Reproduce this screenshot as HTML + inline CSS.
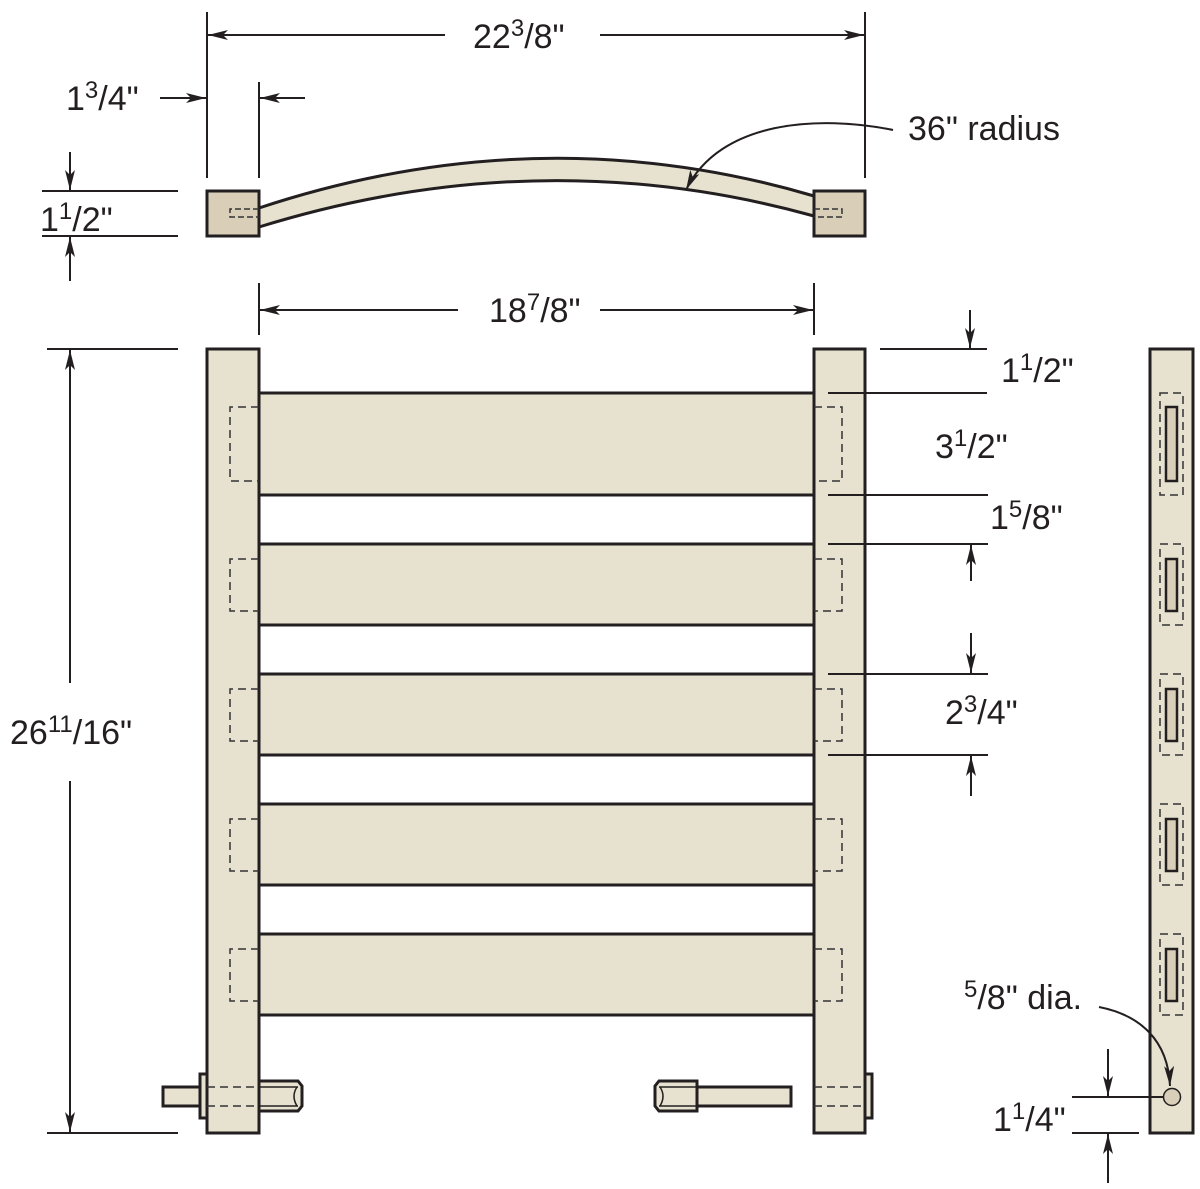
<!DOCTYPE html>
<html><head><meta charset="utf-8"><style>
html,body{margin:0;padding:0;background:#fff;}
svg{display:block;}
text{font-family:"Liberation Sans",sans-serif;font-size:34px;fill:#231f20;}
</style></head><body>
<svg width="1200" height="1189" viewBox="0 0 1200 1189" xmlns="http://www.w3.org/2000/svg">
<defs>
<marker id="a" viewBox="0 0 20 10" refX="20" refY="5" markerWidth="20" markerHeight="10" markerUnits="userSpaceOnUse" orient="auto">
<path d="M0,0 L20,5 L0,10 L5,5 Z" fill="#231f20"/></marker>
</defs>
<!-- top view -->
<g stroke="#231f20" stroke-width="3">
<path d="M259,208 Q540,115 814,196 L814,216 Q540,140 259,227 Z" fill="#e6e2cf"/>
<rect x="207" y="191" width="52" height="45" fill="#d9cfb9"/>
<rect x="814" y="191" width="51" height="45" fill="#d9cfb9"/>
</g>
<g stroke="#333" stroke-width="1.5" stroke-dasharray="6,3" fill="none">
<path d="M259,209 H230 V217 H259"/><path d="M814,209 H842 V217 H814"/>
</g>
<!-- front view -->
<g stroke="#231f20" stroke-width="3" fill="#e6e2cf">
<rect x="259" y="393" width="555" height="102"/>
<rect x="259" y="544" width="555" height="81"/>
<rect x="259" y="674" width="555" height="81"/>
<rect x="259" y="804" width="555" height="81"/>
<rect x="259" y="934" width="555" height="81"/>
<rect x="163" y="1087" width="44" height="19"/>
<rect x="200" y="1074" width="7" height="44"/>
<rect x="207" y="349" width="52" height="784"/>
<rect x="814" y="349" width="51" height="784"/>
<rect x="865" y="1074" width="7" height="44"/>
<path d="M259,1081 H298 L302,1086 V1106 L298,1111 H259 Z"/>
<rect x="697" y="1087" width="94" height="19"/>
<path d="M697,1081 H659 L655,1086 V1106 L659,1111 H697 Z"/>
<rect x="1150" y="349" width="43" height="784"/>
</g>
<g stroke="#231f20" stroke-width="1.5" fill="none">
<line x1="259" y1="1087" x2="298" y2="1087"/><line x1="259" y1="1106" x2="298" y2="1106"/>
<path d="M297,1087 Q291,1096 297,1106"/>
<line x1="659" y1="1087" x2="697" y2="1087"/><line x1="659" y1="1106" x2="697" y2="1106"/>
<path d="M660,1087 Q666,1096 660,1106"/>
</g>
<g stroke="#333" stroke-width="1.5" stroke-dasharray="8,5" fill="none">
<line x1="207" y1="1087" x2="259" y2="1087"/><line x1="207" y1="1106" x2="259" y2="1106"/>
<line x1="814" y1="1087" x2="865" y2="1087"/><line x1="814" y1="1106" x2="865" y2="1106"/>
<path d="M259,407 H230 V481 H259"/><path d="M814,407 H842 V481 H814"/>
<path d="M259,559 H230 V611 H259"/><path d="M814,559 H842 V611 H814"/>
<path d="M259,689 H230 V741 H259"/><path d="M814,689 H842 V741 H814"/>
<path d="M259,819 H230 V871 H259"/><path d="M814,819 H842 V871 H814"/>
<path d="M259,949 H230 V1001 H259"/><path d="M814,949 H842 V1001 H814"/>
<rect x="1160" y="393" width="23" height="102"/>
<rect x="1160" y="544" width="23" height="81"/>
<rect x="1160" y="674" width="23" height="81"/>
<rect x="1160" y="804" width="23" height="81"/>
<rect x="1160" y="934" width="23" height="81"/>
</g>
<g stroke="#231f20" stroke-width="2.5" fill="#d9cfb9">
<rect x="1166" y="407" width="11" height="74"/>
<rect x="1166" y="559" width="11" height="52"/>
<rect x="1166" y="689" width="11" height="52"/>
<rect x="1166" y="819" width="11" height="52"/>
<rect x="1166" y="949" width="11" height="52"/>
</g>
<circle cx="1172" cy="1097" r="8.5" fill="#d9cfb9" stroke="#231f20" stroke-width="1.5"/>
<g stroke="#231f20" stroke-width="2" fill="none">
<!-- top dims -->
<line x1="207" y1="12" x2="207" y2="178"/><line x1="865" y1="12" x2="865" y2="178"/>
<line x1="445" y1="35" x2="208" y2="35" marker-end="url(#a)"/>
<line x1="600" y1="35" x2="864" y2="35" marker-end="url(#a)"/>
<line x1="259" y1="82" x2="259" y2="178"/>
<line x1="160" y1="98" x2="206" y2="98" marker-end="url(#a)"/>
<line x1="305" y1="98" x2="260" y2="98" marker-end="url(#a)"/>
<line x1="42" y1="191" x2="178" y2="191"/><line x1="42" y1="236" x2="178" y2="236"/>
<line x1="70" y1="152" x2="70" y2="190" marker-end="url(#a)"/>
<line x1="70" y1="281" x2="70" y2="237" marker-end="url(#a)"/>
<line x1="259" y1="283" x2="259" y2="335"/><line x1="814" y1="283" x2="814" y2="335"/>
<line x1="458" y1="310" x2="260" y2="310" marker-end="url(#a)"/>
<line x1="600" y1="310" x2="813" y2="310" marker-end="url(#a)"/>
<line x1="47" y1="349" x2="178" y2="349"/><line x1="47" y1="1133" x2="178" y2="1133"/>
<line x1="70" y1="683" x2="70" y2="350" marker-end="url(#a)"/>
<line x1="70" y1="781" x2="70" y2="1132" marker-end="url(#a)"/>
<line x1="880" y1="349" x2="987" y2="349"/>
<line x1="970" y1="310" x2="970" y2="348" marker-end="url(#a)"/>
<line x1="828" y1="393" x2="987" y2="393"/>
<line x1="828" y1="495" x2="988" y2="495"/>
<line x1="828" y1="544" x2="988" y2="544"/>
<line x1="971" y1="581" x2="971" y2="545" marker-end="url(#a)"/>
<line x1="828" y1="674" x2="988" y2="674"/>
<line x1="971" y1="633" x2="971" y2="673" marker-end="url(#a)"/>
<line x1="828" y1="755" x2="988" y2="755"/>
<line x1="971" y1="796" x2="971" y2="756" marker-end="url(#a)"/>
<line x1="1072" y1="1097" x2="1163" y2="1097"/>
<line x1="1072" y1="1133" x2="1139" y2="1133"/>
<line x1="1108" y1="1049" x2="1108" y2="1096" marker-end="url(#a)"/>
<line x1="1108" y1="1183" x2="1108" y2="1134" marker-end="url(#a)"/>
<path d="M1099,1007 C1140,1015 1168,1040 1170,1086" marker-end="url(#a)"/>
<path d="M893,130 C820,115 720,120 686,190" marker-end="url(#a)"/>
</g>
<!-- labels -->
<text x="473" y="48">22<tspan font-size="24" dy="-12">3</tspan><tspan dy="12">/8"</tspan></text>
<text x="66" y="110">1<tspan font-size="24" dy="-12">3</tspan><tspan dy="12">/4"</tspan></text>
<text x="40" y="231">1<tspan font-size="24" dy="-12">1</tspan><tspan dy="12">/2"</tspan></text>
<text x="908" y="140">36" radius</text>
<text x="489" y="322">18<tspan font-size="24" dy="-12">7</tspan><tspan dy="12">/8"</tspan></text>
<text x="10" y="744">26<tspan font-size="24" dy="-12">11</tspan><tspan dy="12">/16"</tspan></text>
<text x="1001" y="382">1<tspan font-size="24" dy="-12">1</tspan><tspan dy="12">/2"</tspan></text>
<text x="935" y="458">3<tspan font-size="24" dy="-12">1</tspan><tspan dy="12">/2"</tspan></text>
<text x="990" y="529">1<tspan font-size="24" dy="-12">5</tspan><tspan dy="12">/8"</tspan></text>
<text x="945" y="724">2<tspan font-size="24" dy="-12">3</tspan><tspan dy="12">/4"</tspan></text>
<text x="964" y="1009"><tspan font-size="24" dy="-12">5</tspan><tspan dy="12">/8" dia.</tspan></text>
<text x="993" y="1131">1<tspan font-size="24" dy="-12">1</tspan><tspan dy="12">/4"</tspan></text>
</svg>
</body></html>
